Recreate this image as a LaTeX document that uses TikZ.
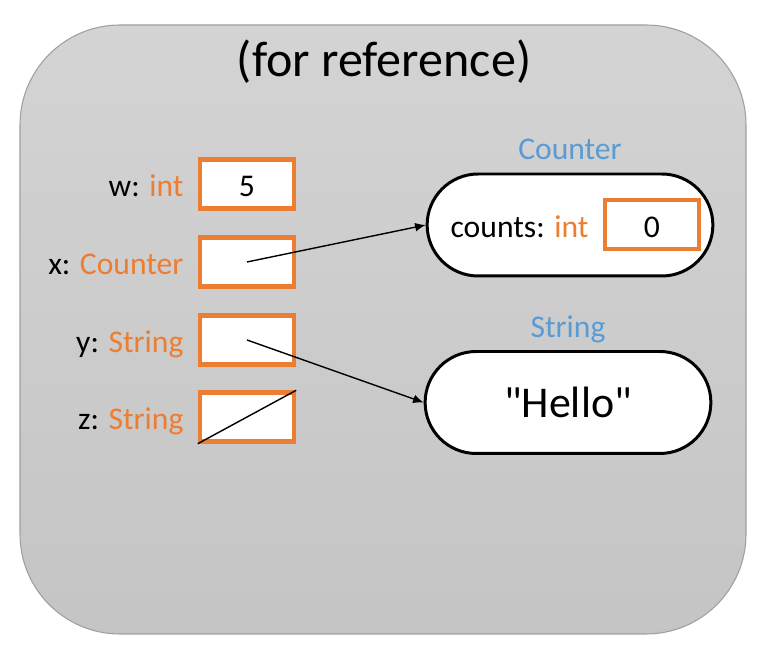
\documentclass[tikz,border=0pt]{standalone}
\usepackage{fontspec}
\setmainfont{Carlito}
\usetikzlibrary{positioning,shapes.misc,arrows.meta}
\definecolor{laranja}{HTML}{ED7D31}
\definecolor{azul}{HTML}{5B9BD5}
\begin{document}
\begin{tikzpicture}[x=0.02cm,y=-0.02cm,
    texto/.style={inner sep=0pt,text height=14.5pt,text depth=0pt,font=\fontsize{18}{22}\selectfont},
    caixa/.style={texto,draw=laranja,line width=2.5pt,fill=white,minimum width=1.88cm,minimum height=0.98cm},
    objeto/.style={rounded rectangle,draw=black,line width=1.7pt,fill=white,minimum width=5.95cm,minimum height=2.04cm},
    seta/.style={-{Latex[length=6pt,width=5pt]},line width=0.8pt}]
    \useasboundingbox (0,0) rectangle (768,668);
    % Desenhando o fundo
    \draw[draw=gray!75,line width=0.6pt,top color=black!17,bottom color=black!23,rounded corners=100*0.02cm]
        (20,25) rectangle (746,634);
    \node[font=\fontsize{28.5}{34}\selectfont] (titulo) at (384,62) {(for reference)};
    % Variaveis
    \node[caixa] (w) at (247,184) {5};
    \node[caixa] (x) at (247,262) {};
    \node[caixa] (y) at (247,340) {};
    \node[caixa] (z) at (247,417) {};
    \node[texto,left=0.28cm of w] (lw) {w: \textcolor{laranja}{int}};
    \node[texto,left=0.28cm of x] (lx) {x: \textcolor{laranja}{Counter}};
    \node[texto,left=0.28cm of y] (ly) {y: \textcolor{laranja}{String}};
    \node[texto,left=0.28cm of z] (lz) {z: \textcolor{laranja}{String}};
    % Objetos
    \node[objeto] (counter) at (570,225) {};
    \node[caixa] (c) at (652,224.5) {0};
    \node[texto,left=0.28cm of c] (lc) {counts: \textcolor{laranja}{int}};
    \node[texto,text=azul,above=0.25cm of counter] (tc) {Counter};
    \node[objeto,font=\fontsize{25}{30}\selectfont] (hello) at (568,402.5) {\textquotedbl Hello\textquotedbl};
    \node[texto,text=azul,above=0.25cm of hello] (th) {String};
    % Inserindo as setas
    \draw[seta] (x.center) -- (counter.west);
    \draw[seta] (y.center) -- (hello.west);
    \draw[line width=0.8pt] (z.south west) -- (z.north east);
\end{tikzpicture}
\end{document}
